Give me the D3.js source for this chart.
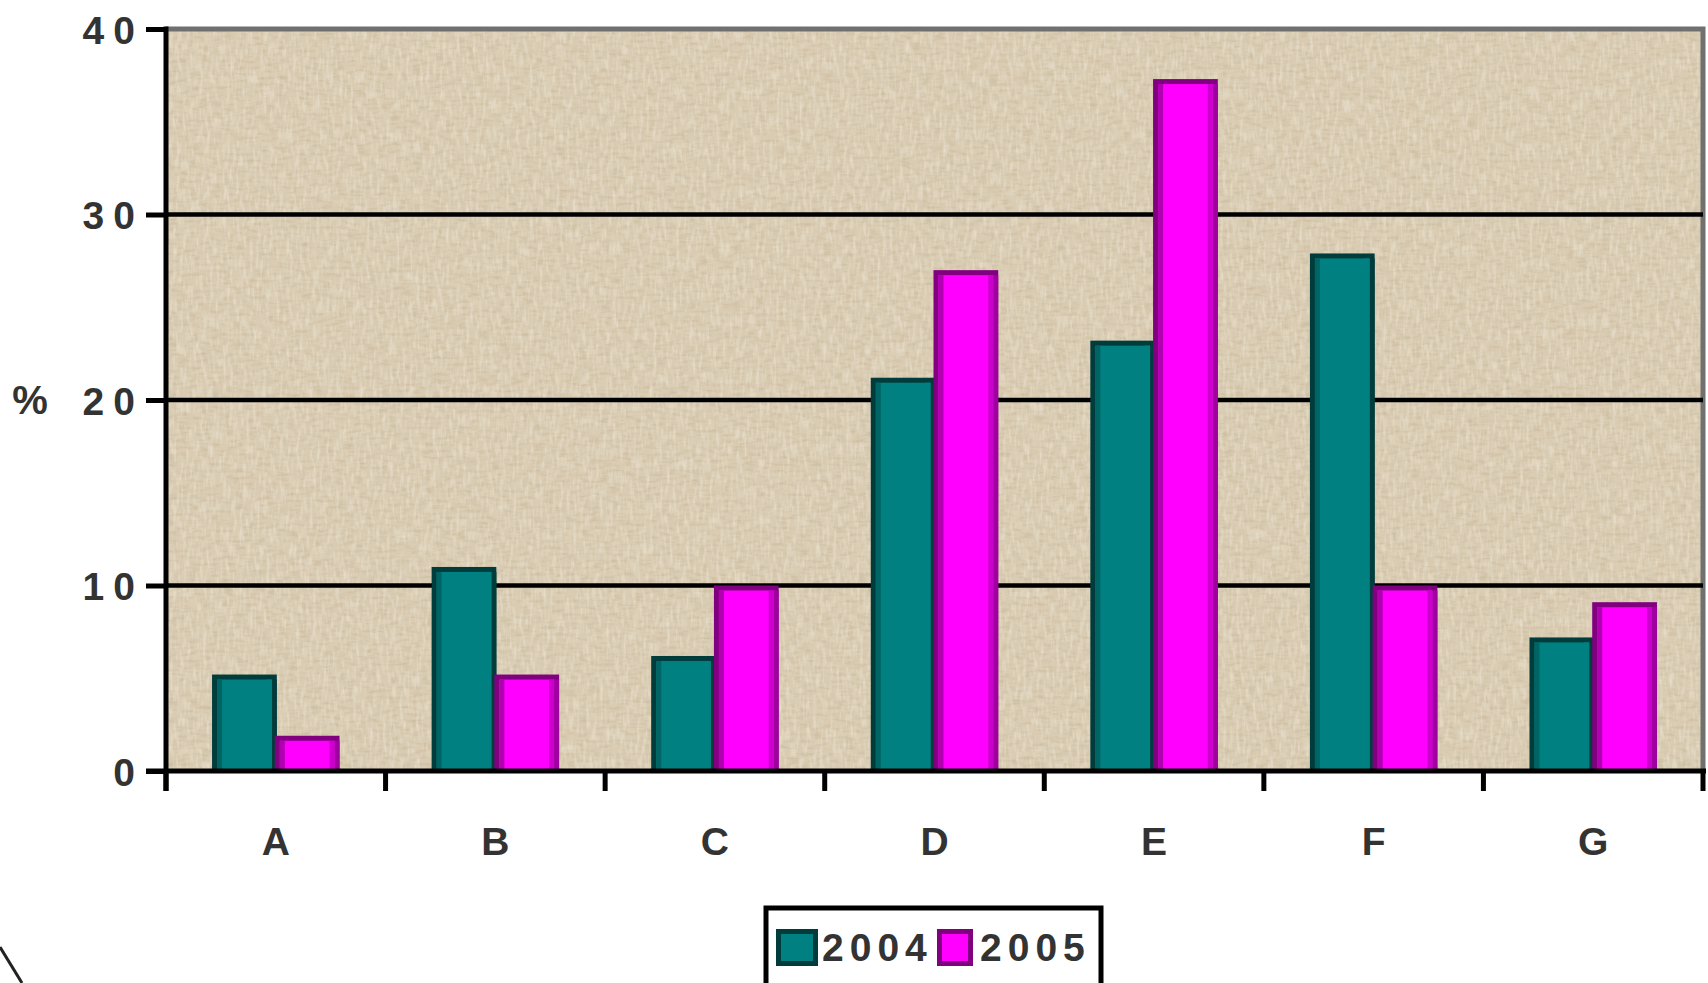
<!DOCTYPE html>
<html>
<head>
<meta charset="utf-8">
<script src="https://cdn.jsdelivr.net/npm/d3@7"></script>
<style>
  html, body { margin: 0; padding: 0; background: #ffffff; overflow: hidden; }
  svg { display: block; }
  text { font-family: "Liberation Sans", Arial, sans-serif; fill: #333333; font-weight: bold; }
</style>
</head>
<body>
<svg id="chart" width="1708" height="983"></svg>
<script>
// ---- data ----
const categories = ["A", "B", "C", "D", "E", "F", "G"];
const seriesNames = ["2004", "2005"];
const values2004 = [5.2, 11, 6.2, 21.2, 23.2, 27.9, 7.2];
const values2005 = [1.9, 5.2, 10, 27, 37.3, 10, 9.1];
const yTicks = [0, 10, 20, 30, 40];
const yAxisLabel = "%";

// ---- layout ----
const plot = { left: 166, right: 1703, top: 29, bottom: 771 };
const svg = d3.select("#chart");
const FS = "39px", LS = "9px";

const x0 = d3.scaleBand().domain(categories).range([plot.left, plot.right]).paddingInner(0).paddingOuter(0);
const x1 = d3.scaleBand().domain(seriesNames).range([0, x0.bandwidth()]).paddingInner(0).paddingOuter(0.75);
const y = d3.scaleLinear().domain([0, 40]).range([plot.bottom, plot.top]);

// background texture
const defs = svg.append("defs");
const f = defs.append("filter").attr("id", "grain").attr("x", 0).attr("y", 0).attr("width", "100%").attr("height", "100%");
f.append("feTurbulence").attr("type", "fractalNoise").attr("baseFrequency", "0.09 0.3").attr("numOctaves", 2).attr("seed", 7).attr("result", "n");
f.append("feColorMatrix").attr("in", "n").attr("type", "matrix")
  .attr("values", "0 0 0 0 0.60  0 0 0 0 0.50  0 0 0 0 0.34  0 0 0 2.4 -1.05");
const f2 = defs.append("filter").attr("id", "grain2").attr("x", 0).attr("y", 0).attr("width", "100%").attr("height", "100%");
f2.append("feTurbulence").attr("type", "fractalNoise").attr("baseFrequency", "0.3 0.07").attr("numOctaves", 2).attr("seed", 3).attr("result", "n");
f2.append("feColorMatrix").attr("in", "n").attr("type", "matrix")
  .attr("values", "0 0 0 0 0.93  0 0 0 0 0.88  0 0 0 0 0.78  0 0 0 2.2 -0.95");

const bgAttrs = sel => sel.attr("x", plot.left).attr("y", plot.top)
  .attr("width", plot.right - plot.left).attr("height", plot.bottom - plot.top);
svg.append("rect").call(bgAttrs).attr("fill", "#d9ccb3");
svg.append("rect").call(bgAttrs).attr("filter", "url(#grain)").attr("opacity", 0.8);
svg.append("rect").call(bgAttrs).attr("filter", "url(#grain2)").attr("opacity", 0.45);

// plot border top/right (gray)
svg.append("path")
  .attr("d", `M${plot.left},${y(40)}H${plot.right}V${plot.bottom}`)
  .attr("fill", "none").attr("stroke", "#707070").attr("stroke-width", 5);

// gridlines
svg.append("g").selectAll("line").data(yTicks.filter(t => t > 0 && t < 40)).join("line")
  .attr("x1", plot.left).attr("x2", plot.right)
  .attr("y1", d => y(d)).attr("y2", d => y(d))
  .attr("stroke", "#000").attr("stroke-width", 4.5);

// bars
const rows = categories.map((c, i) => ({ cat: c, vals: [
  { s: "2004", v: values2004[i] }, { s: "2005", v: values2005[i] }
]}));

const styles = {
  "2004": { outer: "#003c3c", fill: "#008080", left: "#006464", right: "#003c3c", rightInner: "#008080" },
  "2005": { outer: "#800080", fill: "#ff00ff", left: "#b000b0", right: "#a000a0", rightInner: "#cc00cc" }
};

const groups = svg.append("g").selectAll("g").data(rows).join("g")
  .attr("transform", d => `translate(${x0(d.cat)},0)`);

const bars = groups.selectAll("g").data(d => d.vals).join("g");
const bw = x1.bandwidth();
const e = 5; // bevel thickness
bars.each(function(d) {
  const g = d3.select(this);
  const st = styles[d.s];
  const bx = x1(d.s) - 1, by = y(d.v), bh = y(0) - y(d.v), w = bw + 2;
  g.append("rect").attr("x", bx).attr("y", by).attr("width", w).attr("height", bh).attr("fill", st.outer);
  g.append("rect").attr("x", bx + w - e).attr("y", by + e).attr("width", e).attr("height", Math.max(0, bh - e)).attr("fill", st.right);
  g.append("rect").attr("x", bx + e).attr("y", by + e).attr("width", Math.max(0, w - 2 * e)).attr("height", Math.max(0, bh - e)).attr("fill", st.fill);
  g.append("rect").attr("x", bx + e).attr("y", by + e).attr("width", e).attr("height", Math.max(0, bh - e)).attr("fill", st.left);
  g.append("rect").attr("x", bx + w - 2 * e).attr("y", by + e).attr("width", e).attr("height", Math.max(0, bh - e)).attr("fill", st.rightInner);
});

// y axis
const yAxis = d3.axisLeft(y).tickValues(yTicks).tickSize(20).tickSizeOuter(0);
const gy = svg.append("g").attr("transform", `translate(${plot.left},0)`).call(yAxis);
gy.select(".domain").remove();
gy.selectAll(".tick line").attr("stroke", "#000").attr("stroke-width", 5);
gy.selectAll(".tick text")
  .attr("x", -22)
  .attr("dy", "0.36em")
  .style("font-size", FS)
  .style("letter-spacing", LS)
  .style("font-weight", "bold")
  .style("fill", "#333333")
  .style("font-family", "'Liberation Sans', Arial, sans-serif");
svg.append("line").attr("x1", plot.left).attr("x2", plot.left)
  .attr("y1", plot.top - 2.5).attr("y2", plot.bottom + 20)
  .attr("stroke", "#000").attr("stroke-width", 5);

// x axis
svg.append("line").attr("x1", plot.left - 20).attr("x2", plot.right + 3)
  .attr("y1", plot.bottom).attr("y2", plot.bottom)
  .attr("stroke", "#000").attr("stroke-width", 5);
const boundaries = categories.map(c => x0(c)).concat([x0(categories[categories.length - 1]) + x0.bandwidth()]);
svg.append("g").selectAll("line").data(boundaries).join("line")
  .attr("x1", d => d).attr("x2", d => d)
  .attr("y1", plot.bottom).attr("y2", plot.bottom + 20)
  .attr("stroke", "#000").attr("stroke-width", 5);
svg.append("g").selectAll("text").data(categories).join("text")
  .attr("x", d => x0(d) + x0.bandwidth() / 2 + 4.5)
  .attr("y", 855)
  .attr("text-anchor", "middle")
  .style("font-size", FS)
  .style("letter-spacing", LS)
  .text(d => d);

// y label
svg.append("text").attr("x", 30).attr("y", 414).attr("text-anchor", "middle")
  .style("font-size", "40px").text(yAxisLabel);

// legend
const lg = svg.append("g");
lg.append("rect").attr("x", 766).attr("y", 908).attr("width", 335).attr("height", 100)
  .attr("fill", "#fff").attr("stroke", "#000").attr("stroke-width", 5);
const legendItems = [
  { name: seriesNames[0], sx: 776, sw: 42, tx: 822 },
  { name: seriesNames[1], sx: 937, sw: 36, tx: 980 }
];
legendItems.forEach(it => {
  const st = styles[it.name];
  lg.append("rect").attr("x", it.sx).attr("y", 929).attr("width", it.sw).attr("height", 37).attr("fill", st.outer);
  lg.append("rect").attr("x", it.sx + 5).attr("y", 934).attr("width", it.sw - 10).attr("height", 27).attr("fill", st.fill);
  lg.append("text").attr("x", it.tx).attr("y", 961)
    .style("font-size", FS).style("letter-spacing", "6px").text(it.name);
});

// stray corner mark
svg.append("line").attr("x1", 0).attr("y1", 947).attr("x2", 22).attr("y2", 983)
  .attr("stroke", "#222").attr("stroke-width", 3);
</script>
</body>
</html>
